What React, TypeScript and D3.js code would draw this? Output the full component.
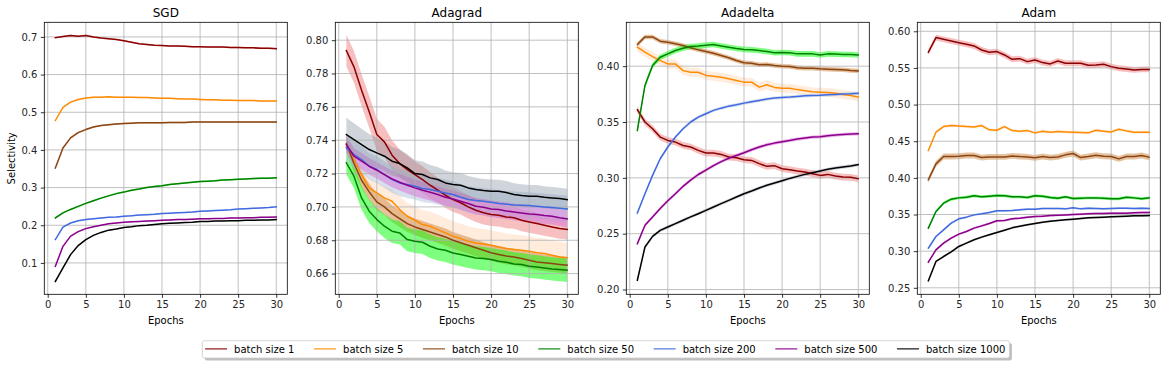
import React, { useEffect, useRef } from "react";
import * as d3 from "d3";

const epochs = d3.range(1, 31);
const batchLabels = [
  "batch size 1",
  "batch size 5",
  "batch size 10",
  "batch size 50",
  "batch size 200",
  "batch size 500",
  "batch size 1000",
];
const lineColors = ["#8b0000", "#ff8c00", "#8b4513", "#008000", "#4169e1", "#8b008b", "#000000"];
const bandColors = ["#f08080", "#ffdab9", "#cd853f", "#00ff00", "#b0c4de", "#da70d6", "#778899"];
const bandAlpha = [0.5, 0.5, 0.5, 0.5, 0.5, 0.5, 0.35];

const xTicks = [0, 5, 10, 15, 20, 25, 30];

// SGD
const sgdMeans = [
  [0.698, 0.701, 0.704, 0.702, 0.704, 0.7, 0.697, 0.695, 0.693, 0.69, 0.686, 0.682, 0.68, 0.678, 0.677, 0.676, 0.676, 0.675, 0.674, 0.674, 0.673, 0.673, 0.673, 0.672, 0.672, 0.671, 0.671, 0.67, 0.67, 0.669],
  [0.478, 0.513, 0.527, 0.534, 0.538, 0.54, 0.54, 0.541, 0.54, 0.54, 0.54, 0.539, 0.539, 0.538, 0.537, 0.537, 0.536, 0.535, 0.535, 0.534, 0.533, 0.533, 0.532, 0.532, 0.531, 0.531, 0.531, 0.53, 0.53, 0.53],
  [0.352, 0.405, 0.432, 0.446, 0.454, 0.461, 0.465, 0.467, 0.469, 0.47, 0.471, 0.472, 0.472, 0.472, 0.472, 0.473, 0.473, 0.473, 0.474, 0.474, 0.474, 0.474, 0.474, 0.474, 0.474, 0.474, 0.474, 0.474, 0.474, 0.474],
  [0.2195, 0.233, 0.242, 0.25, 0.258, 0.265, 0.272, 0.278, 0.284, 0.288, 0.293, 0.296, 0.3, 0.303, 0.305, 0.308, 0.31, 0.312, 0.314, 0.316, 0.317, 0.318, 0.32, 0.321, 0.322, 0.323, 0.324, 0.325, 0.325, 0.326],
  [0.162, 0.195, 0.206, 0.212, 0.215, 0.217, 0.219, 0.221, 0.222, 0.224, 0.225, 0.227, 0.228, 0.229, 0.231, 0.232, 0.233, 0.234, 0.235, 0.237, 0.238, 0.239, 0.24, 0.241, 0.243, 0.244, 0.245, 0.246, 0.247, 0.249],
  [0.091, 0.144, 0.171, 0.183, 0.191, 0.196, 0.2, 0.204, 0.206, 0.208, 0.209, 0.21, 0.211, 0.212, 0.213, 0.214, 0.215, 0.215, 0.216, 0.217, 0.217, 0.218, 0.218, 0.219, 0.219, 0.22, 0.22, 0.221, 0.221, 0.222],
  [0.051, 0.087, 0.122, 0.146, 0.162, 0.173, 0.181, 0.187, 0.19, 0.194, 0.196, 0.199, 0.2, 0.202, 0.204, 0.205, 0.206, 0.207, 0.208, 0.21, 0.21, 0.211, 0.211, 0.212, 0.212, 0.213, 0.213, 0.214, 0.214, 0.215],
];
const sgdSpread = [0.002, 0.002, 0.002, 0.002, 0.0015, 0.0015, 0.0015];
const sgdYTicks = [0.1, 0.2, 0.3, 0.4, 0.5, 0.6, 0.7];

// Adagrad
const adagradMeans = [
  [0.7938, 0.784, 0.77, 0.757, 0.7434, 0.739, 0.731, 0.726, 0.7224, 0.7194, 0.7164, 0.713, 0.71, 0.707, 0.7044, 0.7025, 0.7, 0.698, 0.6965, 0.6955, 0.695, 0.694, 0.6935, 0.692, 0.691, 0.69, 0.689, 0.688, 0.687, 0.6865],
  [0.7364, 0.7284, 0.7194, 0.7114, 0.7084, 0.7054, 0.7034, 0.6984, 0.6944, 0.692, 0.6894, 0.6884, 0.6864, 0.6844, 0.6824, 0.681, 0.6794, 0.6784, 0.6777, 0.677, 0.676, 0.675, 0.6744, 0.674, 0.6734, 0.6725, 0.672, 0.671, 0.67, 0.6695],
  [0.738, 0.726, 0.716, 0.709, 0.703, 0.7, 0.696, 0.693, 0.69, 0.688, 0.6865, 0.685, 0.6835, 0.682, 0.68, 0.6785, 0.677, 0.6755, 0.674, 0.6725, 0.6715, 0.6705, 0.67, 0.669, 0.668, 0.667, 0.6665, 0.666, 0.6655, 0.665],
  [0.7264, 0.7184, 0.7054, 0.6974, 0.6924, 0.6884, 0.6854, 0.6844, 0.6804, 0.6794, 0.6788, 0.6764, 0.6748, 0.674, 0.6724, 0.6714, 0.6704, 0.6694, 0.669, 0.6684, 0.6674, 0.6668, 0.6658, 0.6654, 0.6644, 0.664, 0.6634, 0.6628, 0.6624, 0.662],
  [0.7354, 0.7314, 0.7284, 0.7244, 0.7224, 0.7194, 0.7164, 0.7144, 0.7134, 0.7124, 0.711, 0.7104, 0.7094, 0.7084, 0.7074, 0.7058, 0.7044, 0.7038, 0.7034, 0.7028, 0.702, 0.7016, 0.7012, 0.701, 0.7008, 0.7004, 0.7, 0.6996, 0.6992, 0.6988],
  [0.7374, 0.7304, 0.7274, 0.7244, 0.722, 0.7194, 0.7168, 0.7148, 0.713, 0.7114, 0.71, 0.7088, 0.7074, 0.7058, 0.7048, 0.7034, 0.702, 0.7004, 0.6998, 0.6988, 0.6984, 0.6976, 0.697, 0.6964, 0.6958, 0.6954, 0.6948, 0.6944, 0.6935, 0.6928],
  [0.7434, 0.7404, 0.7374, 0.7344, 0.7324, 0.7304, 0.7274, 0.726, 0.7234, 0.72, 0.7194, 0.7174, 0.7164, 0.7144, 0.7134, 0.713, 0.7114, 0.7104, 0.7098, 0.7094, 0.7094, 0.7086, 0.7074, 0.7068, 0.7064, 0.7064, 0.7058, 0.7054, 0.705, 0.7044],
];
const adagradRedSpread = [0.0095, 0.0095, 0.0095, 0.0095, 0.0095, 0.009, 0.009, 0.0085, 0.0085, 0.008, 0.008, 0.008, 0.0075, 0.0075, 0.0075, 0.007, 0.007, 0.007, 0.007, 0.007, 0.0068, 0.0068, 0.0066, 0.0066, 0.0065, 0.0064, 0.0063, 0.0062, 0.0061, 0.006];
const adagradOrangeSpread = [0.003, 0.004, 0.005, 0.006, 0.0065, 0.007, 0.0075, 0.008, 0.008, 0.0085, 0.0085, 0.0088, 0.009, 0.009, 0.009, 0.009, 0.009, 0.009, 0.009, 0.009, 0.009, 0.009, 0.009, 0.009, 0.009, 0.009, 0.009, 0.009, 0.009, 0.009];
const adagradBlackSpread = [0.01, 0.0098, 0.0095, 0.0093, 0.009, 0.0088, 0.0086, 0.0084, 0.0082, 0.008, 0.0078, 0.0077, 0.0076, 0.0075, 0.0074, 0.0073, 0.0072, 0.0071, 0.007, 0.007, 0.0069, 0.0069, 0.0068, 0.0068, 0.0067, 0.0067, 0.0066, 0.0066, 0.0065, 0.0065];
const adagradSpread = [adagradRedSpread, adagradOrangeSpread, 0.005, 0.007, 0.008, 0.005, adagradBlackSpread];
const adagradYTicks = [0.66, 0.68, 0.7, 0.72, 0.74, 0.76, 0.78, 0.8];

// Adadelta
const adadeltaMeans = [
  [0.361, 0.35, 0.344, 0.3365, 0.3335, 0.332, 0.329, 0.3276, 0.3246, 0.3222, 0.3222, 0.321, 0.3186, 0.318, 0.3162, 0.3156, 0.3127, 0.3103, 0.3109, 0.3082, 0.3073, 0.3061, 0.3052, 0.3037, 0.3022, 0.3031, 0.3016, 0.3007, 0.3005, 0.2992],
  [0.417, 0.4125, 0.4086, 0.405, 0.402, 0.402, 0.396, 0.3946, 0.3946, 0.3917, 0.391, 0.39, 0.3887, 0.3872, 0.3857, 0.3857, 0.3812, 0.3833, 0.381, 0.3803, 0.3803, 0.379, 0.378, 0.377, 0.3767, 0.3765, 0.3758, 0.3747, 0.3738, 0.3723],
  [0.4194, 0.4262, 0.4262, 0.4224, 0.4215, 0.42, 0.4185, 0.4164, 0.4146, 0.4131, 0.4116, 0.4095, 0.4075, 0.405, 0.403, 0.4027, 0.4012, 0.4015, 0.4006, 0.4, 0.3997, 0.3985, 0.3982, 0.3982, 0.3976, 0.3973, 0.397, 0.3967, 0.3961, 0.3958],
  [0.3425, 0.3827, 0.4006, 0.408, 0.411, 0.414, 0.416, 0.4176, 0.418, 0.4188, 0.4194, 0.418, 0.417, 0.4158, 0.415, 0.4146, 0.414, 0.4131, 0.412, 0.4123, 0.412, 0.411, 0.411, 0.411, 0.41, 0.411, 0.4108, 0.4105, 0.4105, 0.41],
  [0.2685, 0.2858, 0.3022, 0.3171, 0.3276, 0.3365, 0.344, 0.35, 0.3544, 0.3574, 0.3604, 0.3624, 0.3642, 0.3654, 0.3669, 0.3681, 0.3693, 0.3705, 0.3714, 0.372, 0.3723, 0.3729, 0.3735, 0.3738, 0.374, 0.3744, 0.3747, 0.375, 0.3753, 0.3758],
  [0.241, 0.2575, 0.265, 0.2725, 0.2795, 0.2858, 0.2924, 0.298, 0.303, 0.307, 0.311, 0.3145, 0.3175, 0.32, 0.3225, 0.3252, 0.3276, 0.3296, 0.3311, 0.3323, 0.3335, 0.3347, 0.3356, 0.3365, 0.3368, 0.3377, 0.3383, 0.3389, 0.3392, 0.3395],
  [0.2083, 0.2381, 0.2476, 0.253, 0.256, 0.259, 0.262, 0.265, 0.2679, 0.2709, 0.2739, 0.2769, 0.2798, 0.2828, 0.2858, 0.2882, 0.2909, 0.2933, 0.2953, 0.2974, 0.2995, 0.3013, 0.3031, 0.3046, 0.3061, 0.3076, 0.3088, 0.3097, 0.3106, 0.3118],
];
const adadeltaSpread = [0.003, 0.004, 0.002, 0.0025, 0.0015, 0.0015, 0.0015];
const adadeltaYTicks = [0.2, 0.25, 0.3, 0.35, 0.4];

// Adam
const adamMeans = [
  [0.5714, 0.5914, 0.589, 0.5868, 0.5845, 0.5823, 0.58, 0.5745, 0.5714, 0.5723, 0.5677, 0.5618, 0.5627, 0.5586, 0.5609, 0.5573, 0.5555, 0.5595, 0.5564, 0.5564, 0.5564, 0.5536, 0.554, 0.555, 0.5518, 0.5495, 0.5486, 0.5473, 0.548, 0.548],
  [0.4373, 0.4623, 0.47, 0.4714, 0.4709, 0.47, 0.4695, 0.4714, 0.4655, 0.465, 0.47, 0.4645, 0.4636, 0.4645, 0.4614, 0.4636, 0.4623, 0.4632, 0.4627, 0.4623, 0.4618, 0.4614, 0.465, 0.4636, 0.4627, 0.4664, 0.4641, 0.4623, 0.4623, 0.4623],
  [0.3973, 0.4191, 0.4291, 0.4291, 0.4295, 0.4305, 0.4305, 0.4277, 0.4286, 0.4286, 0.4286, 0.43, 0.4291, 0.4286, 0.4273, 0.4291, 0.4277, 0.4286, 0.4314, 0.4332, 0.4277, 0.4291, 0.4309, 0.4295, 0.4291, 0.4259, 0.4291, 0.4291, 0.4305, 0.4282],
  [0.3314, 0.3541, 0.3655, 0.3709, 0.3727, 0.3736, 0.3755, 0.3741, 0.375, 0.3759, 0.3755, 0.3741, 0.3741, 0.3732, 0.3755, 0.375, 0.3732, 0.3723, 0.3741, 0.3718, 0.3723, 0.3727, 0.3727, 0.3723, 0.3714, 0.3714, 0.3736, 0.3727, 0.3714, 0.3727],
  [0.3041, 0.32, 0.3291, 0.3382, 0.3441, 0.3464, 0.3495, 0.3509, 0.3527, 0.355, 0.355, 0.3555, 0.3564, 0.3573, 0.3573, 0.3582, 0.3582, 0.3582, 0.3577, 0.3591, 0.3577, 0.3586, 0.3582, 0.3577, 0.3582, 0.3586, 0.3586, 0.3582, 0.3586, 0.3582],
  [0.285, 0.3018, 0.3109, 0.3177, 0.3232, 0.3268, 0.3314, 0.3345, 0.3377, 0.3414, 0.3418, 0.3441, 0.345, 0.3464, 0.3473, 0.3477, 0.3486, 0.3491, 0.3495, 0.35, 0.3505, 0.3509, 0.3514, 0.3514, 0.3518, 0.3518, 0.3518, 0.3523, 0.3527, 0.3527],
  [0.2595, 0.2859, 0.2927, 0.2991, 0.3064, 0.3109, 0.3155, 0.3191, 0.3223, 0.3255, 0.3286, 0.3318, 0.3341, 0.3359, 0.3377, 0.3395, 0.3409, 0.3418, 0.3427, 0.3436, 0.3445, 0.3455, 0.3459, 0.3464, 0.3468, 0.3473, 0.3477, 0.3482, 0.3482, 0.3486],
];
const adamSpread = [0.004, 0.002, 0.004, 0.002, 0.0015, 0.0015, 0.0015];
const adamYTicks = [0.25, 0.3, 0.35, 0.4, 0.45, 0.5, 0.55, 0.6];

const panels = [
  { title: "SGD", means: sgdMeans, spread: sgdSpread, yTicks: sgdYTicks, fmt: ".1f" },
  { title: "Adagrad", means: adagradMeans, spread: adagradSpread, yTicks: adagradYTicks, fmt: ".2f" },
  { title: "Adadelta", means: adadeltaMeans, spread: adadeltaSpread, yTicks: adadeltaYTicks, fmt: ".2f" },
  { title: "Adam", means: adamMeans, spread: adamSpread, yTicks: adamYTicks, fmt: ".2f" },
];

const FONT = "DejaVu Sans";

export default function App() {
  const svgRef = useRef<SVGSVGElement>(null);
  const width = 1167;
  const height = 365;
  const axLeft = 44.3;
  const axStep = 291;
  const axW = 243;
  const axTop = 22.3;
  const axH = 272;

  useEffect(() => {
    const svg = d3.select(svgRef.current);
    svg.selectAll("*").remove();

    const spreadAt = (s: any, i: number) => (Array.isArray(s) ? s[i] : s);

    panels.forEach((p, k) => {
      const g = svg
        .append("g")
        .attr("transform", `translate(${axLeft + k * axStep},${axTop})`);

      // matplotlib-style 5% margins around data + bands
      const lows = p.means.flatMap((m, s) => m.map((v, i) => v - spreadAt(p.spread[s], i)));
      const highs = p.means.flatMap((m, s) => m.map((v, i) => v + spreadAt(p.spread[s], i)));
      const yMin = d3.min(lows)!;
      const yMax = d3.max(highs)!;
      const yPad = (yMax - yMin) * 0.05;
      const xPad = (30 - 1) * 0.05;

      const x = d3.scaleLinear().domain([1 - xPad, 30 + xPad]).range([0, axW]);
      const y = d3.scaleLinear().domain([yMin - yPad, yMax + yPad]).range([axH, 0]);

      // bands
      p.means.forEach((m, s) => {
        const area = d3
          .area<number>()
          .x((d, i) => x(epochs[i]))
          .y0((d, i) => y(d - spreadAt(p.spread[s], i)))
          .y1((d, i) => y(d + spreadAt(p.spread[s], i)));
        g.append("path")
          .attr("d", area(m))
          .attr("fill", bandColors[s])
          .attr("fill-opacity", bandAlpha[s])
          .attr("stroke", "none");
      });

      // grid
      g.selectAll(".gx")
        .data(xTicks)
        .enter()
        .append("line")
        .attr("x1", (d) => x(d))
        .attr("x2", (d) => x(d))
        .attr("y1", 0)
        .attr("y2", axH)
        .attr("stroke", "#b0b0b0")
        .attr("stroke-width", 0.8);
      g.selectAll(".gy")
        .data(p.yTicks)
        .enter()
        .append("line")
        .attr("x1", 0)
        .attr("x2", axW)
        .attr("y1", (d) => y(d))
        .attr("y2", (d) => y(d))
        .attr("stroke", "#b0b0b0")
        .attr("stroke-width", 0.8);

      // lines
      const line = d3
        .line<number>()
        .x((d, i) => x(epochs[i]))
        .y((d) => y(d));
      p.means.forEach((m, s) => {
        g.append("path")
          .attr("d", line(m))
          .attr("fill", "none")
          .attr("stroke", lineColors[s])
          .attr("stroke-width", 1.5)
          .attr("stroke-linejoin", "round")
          .attr("stroke-linecap", "square");
      });

      // axes
      const xAxis = d3
        .axisBottom(x)
        .tickValues(xTicks)
        .tickSize(3.5)
        .tickSizeOuter(0)
        .tickPadding(3.5)
        .tickFormat(d3.format("d") as any);
      const yAxis = d3
        .axisLeft(y)
        .tickValues(p.yTicks)
        .tickSize(3.5)
        .tickSizeOuter(0)
        .tickPadding(3.5)
        .tickFormat(d3.format(p.fmt) as any);

      const gx = g.append("g").attr("transform", `translate(0,${axH})`).call(xAxis);
      const gy = g.append("g").call(yAxis);
      [gx, gy].forEach((a) => {
        a.select(".domain").remove();
        a.selectAll("line").attr("stroke", "#000").attr("stroke-width", 0.8);
        a.selectAll("text")
          .attr("fill", "#262626")
          .style("font-family", FONT)
          .style("font-size", "10px");
      });

      // spines
      g.append("rect")
        .attr("x", 0)
        .attr("y", 0)
        .attr("width", axW)
        .attr("height", axH)
        .attr("fill", "none")
        .attr("stroke", "#000")
        .attr("stroke-width", 0.8);

      g.append("text")
        .attr("x", axW / 2)
        .attr("y", -5.6)
        .attr("text-anchor", "middle")
        .style("font-family", FONT)
        .style("font-size", "12px")
        .attr("fill", "#000")
        .text(p.title);

      g.append("text")
        .attr("x", axW / 2)
        .attr("y", axH + 30.2)
        .attr("text-anchor", "middle")
        .style("font-family", FONT)
        .style("font-size", "10px")
        .attr("fill", "#000")
        .text("Epochs");

      if (k === 0) {
        g.append("text")
          .attr("transform", `translate(${11.7 - axLeft + 3.6},${axH / 2}) rotate(-90)`)
          .attr("text-anchor", "middle")
          .style("font-family", FONT)
          .style("font-size", "10px")
          .attr("fill", "#000")
          .text("Selectivity");
      }
    });

    // legend
    const legLeft = 202.3;
    const legTop = 340.7;
    const legH = 17.3;
    const leg = svg.append("g");
    const shadow = leg
      .append("rect")
      .attr("x", legLeft + 2.5)
      .attr("y", legTop + 2.5)
      .attr("height", legH)
      .attr("rx", 2)
      .attr("fill", "#808080")
      .attr("fill-opacity", 0.5);
    const frame = leg
      .append("rect")
      .attr("x", legLeft)
      .attr("y", legTop)
      .attr("height", legH)
      .attr("rx", 2)
      .attr("fill", "#fff")
      .attr("stroke", "#cccccc")
      .attr("stroke-width", 0.8);

    let cx = legLeft + 2.8;
    const cy = legTop + legH / 2;
    batchLabels.forEach((label, i) => {
      leg
        .append("line")
        .attr("x1", cx)
        .attr("x2", cx + 22)
        .attr("y1", cy - 0.5)
        .attr("y2", cy - 0.5)
        .attr("stroke", lineColors[i])
        .attr("stroke-opacity", 0.75)
        .attr("stroke-width", 1.5);
      const t = leg
        .append("text")
        .attr("x", cx + 29)
        .attr("y", cy)
        .attr("dy", "0.35em")
        .style("font-family", FONT)
        .style("font-size", "10px")
        .attr("fill", "#000")
        .text(label);
      const w = (t.node() as SVGTextElement).getComputedTextLength();
      cx += 29 + w + (i < batchLabels.length - 1 ? 19.6 : 0);
    });
    const legW = cx + 4 - legLeft;
    frame.attr("width", legW);
    shadow.attr("width", legW);
  }, []);

  return (
    <svg
      ref={svgRef}
      width={width}
      height={height}
      style={{ position: "absolute", left: 0, top: 0, background: "#fff" }}
    ></svg>
  );
}
